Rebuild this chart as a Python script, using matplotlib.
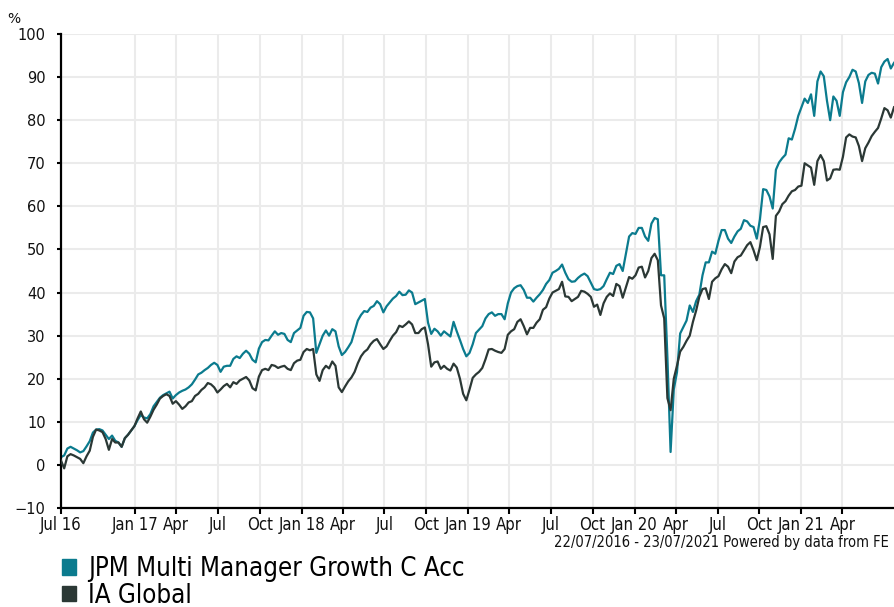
import numpy as np
import pandas as pd
import matplotlib
matplotlib.use("Agg")
import matplotlib.pyplot as plt
from matplotlib.patches import Patch

# weekly closing points, 22/07/2016 .. 23/07/2021 (cumulative % growth)
dates = pd.date_range("2016-07-22", "2021-07-23", freq="7D")

jpm = [
    1.8, 2.2, 3.8, 4.2, 3.8, 3.4, 2.9, 3.2, 4.3, 5.5,
    7.5, 8.2, 8.3, 8.0, 7.0, 6.0, 6.8, 5.6, 5.2, 4.2,
    6.2, 7.0, 8.0, 9.0, 10.4, 11.6, 11.0, 10.8, 11.8, 13.6,
    14.6, 15.6, 16.2, 16.6, 17.0, 15.4, 16.2, 16.8, 17.2, 17.5,
    18.0, 18.7, 19.8, 21.0, 21.4, 22.0, 22.5, 23.2, 23.7, 23.2,
    21.6, 22.8,
    23.0, 23.0, 24.6, 25.2, 24.8, 25.8, 26.5, 25.8, 24.4, 23.8,
    27.0, 28.5, 29.0, 28.9, 30.0, 31.0, 30.2, 30.6, 30.4, 29.0,
    28.5, 30.6, 31.2, 31.8, 34.6, 35.5, 35.4, 34.0, 26.0, 28.0,
    30.0, 31.2, 30.0, 31.5, 31.0, 27.5, 25.5, 26.2, 27.3, 28.5,
    31.0, 33.5, 34.8, 35.7, 35.5, 36.5, 36.9, 38.0, 37.3,
    35.4, 36.8, 37.7, 38.6, 39.2, 40.2, 39.4, 39.5, 40.5, 40.0,
    37.3, 37.7, 38.1, 38.5, 33.0, 30.4, 31.6, 31.0, 30.0, 31.0,
    30.4, 29.8, 33.2, 31.0, 29.0, 26.9, 25.2, 26.0, 28.0, 30.6,
    31.4, 32.2, 34.0, 35.0, 35.4, 34.6, 35.0, 35.0, 33.8, 37.5,
    40.0, 41.0, 41.5, 41.7, 40.6, 38.8, 38.8, 37.9, 38.8, 39.6,
    40.6, 42.0, 42.9, 44.6, 45.0, 45.5, 46.5, 44.6, 43.1, 42.5,
    42.6, 43.4, 44.0, 44.4, 43.8, 42.3, 40.8, 40.6, 40.8, 41.5,
    43.1, 44.6, 44.3, 46.2, 46.6, 45.0, 49.0, 53.0, 53.8, 53.6,
    55.0, 55.0, 53.0, 52.0, 56.0, 57.3, 57.0, 44.0, 44.0, 25.0,
    3.0, 17.5, 21.5, 30.5, 32.0, 33.5, 37.0,
    35.5, 38.0, 39.5, 44.0, 47.0, 47.0, 49.5, 49.0, 52.0, 54.5,
    54.5, 52.5, 51.5, 53.0, 54.2, 54.8, 56.8, 56.5, 55.5, 55.2,
    52.5, 57.0, 64.0, 63.8, 62.3, 59.5, 68.5, 70.2,
    71.2, 72.0, 75.8, 75.5, 78.0, 81.0, 83.0, 85.0, 84.0, 86.0,
    81.0, 89.0, 91.3, 90.2, 84.5, 80.0, 85.5, 84.5, 81.0, 86.5,
    88.8, 90.0, 91.7, 91.3, 88.6, 84.0, 89.0, 90.5, 91.0, 90.8,
    88.5, 92.3, 93.6, 94.2, 92.0, 93.3,
]

ia_global = [
    1.0, -0.8, 2.0, 2.5, 2.2, 1.8, 1.4, 0.4, 2.0, 3.3,
    6.5, 8.2, 8.0, 7.6, 6.0, 3.5, 6.0, 5.2, 5.2, 4.2,
    6.2, 7.0, 8.0, 9.0, 10.8, 12.4, 10.6, 9.8, 11.2, 12.8,
    14.0, 15.4, 16.0, 16.4, 16.0, 14.2, 14.8, 14.0, 13.0, 13.6,
    14.5, 14.8, 16.0, 16.5, 17.4, 18.0, 19.0, 18.7, 18.0, 16.8,
    17.5, 18.3,
    18.8, 18.0, 19.2, 18.8, 19.6, 20.0, 20.4, 19.6, 17.8, 17.3,
    20.5, 22.0, 22.3, 22.0, 23.2, 23.0, 22.5, 22.8, 23.0, 22.3,
    22.0, 23.6, 24.2, 24.4, 26.2, 26.9, 26.6, 26.9, 21.0, 19.5,
    22.0, 23.0, 22.4, 24.0, 23.0, 18.0, 16.9, 18.2, 19.4, 20.3,
    21.6, 23.6, 25.2, 26.2, 26.8, 28.0, 28.8, 29.2, 28.0,
    26.9, 27.5, 28.8, 30.0, 30.8, 32.3, 32.0, 32.6, 33.3, 32.6,
    30.6, 30.6, 31.5, 31.9, 28.0, 22.8, 23.8, 24.0, 22.3, 23.0,
    22.3, 21.9, 23.5, 22.6, 20.0, 16.5, 15.0, 17.5, 20.2, 21.0,
    21.6, 22.5, 24.5, 26.8, 26.9, 26.5, 26.2, 26.0, 26.9, 30.2,
    31.0, 31.5, 33.2, 33.8, 32.2, 30.3, 31.8, 31.8, 33.0, 33.8,
    36.0, 36.6, 38.6, 40.0, 40.4, 40.8, 42.5, 39.1, 39.0, 38.0,
    38.5, 39.0, 40.4, 40.2, 39.7, 39.0, 36.7, 37.2, 34.8, 37.5,
    39.0, 39.8, 39.2, 42.0, 41.5, 38.8, 41.2, 43.6, 43.2, 44.0,
    45.8, 46.0, 43.5, 45.0, 48.0, 49.0, 47.5, 37.0, 34.0, 15.5,
    12.7, 20.0, 23.0, 26.3, 27.4, 28.8, 30.0,
    33.2, 35.8, 39.0, 40.8, 41.0, 38.5, 42.5, 43.3, 43.8, 45.4,
    46.6, 46.0, 44.5, 47.2, 48.2, 48.6, 49.8, 51.0, 51.7, 49.8,
    47.5, 50.6, 55.2, 55.4, 53.5, 47.8, 57.8, 58.8,
    60.5, 61.2, 62.5, 63.5, 63.8, 64.6, 64.8, 70.0, 69.5, 69.0,
    65.0, 70.5, 71.9, 70.5, 66.0, 66.5, 68.5, 68.6, 68.5, 71.5,
    76.0, 76.7, 76.2, 76.0, 74.0, 70.5, 73.5, 74.8, 76.3, 77.3,
    78.2, 80.4, 82.8, 82.3, 80.6, 83.0,
]

series_names = ["JPM Multi Manager Growth C Acc", "IA Global"]
colors = ["#0b7b8e", "#2b3835"]

tick_dates = pd.to_datetime([
    "2016-07-22", "2017-01-01", "2017-04-01", "2017-07-01", "2017-10-01",
    "2018-01-01", "2018-04-01", "2018-07-01", "2018-10-01",
    "2019-01-01", "2019-04-01", "2019-07-01", "2019-10-01",
    "2020-01-01", "2020-04-01", "2020-07-01", "2020-10-01",
    "2021-01-01", "2021-04-01",
])
tick_labels = ["Jul 16", "Jan 17", "Apr", "Jul", "Oct", "Jan 18", "Apr", "Jul", "Oct",
               "Jan 19", "Apr", "Jul", "Oct", "Jan 20", "Apr", "Jul", "Oct", "Jan 21", "Apr"]
y_ticks = list(range(-10, 101, 10))
footer = "22/07/2016 - 23/07/2021 Powered by data from FE"

W, H = 894, 607
fig = plt.figure(figsize=(W / 100, H / 100), dpi=100)
ax = fig.add_axes([61 / W, 1 - 508 / H, 833 / W, 474 / H])

ax.plot(dates, ia_global, color=colors[1], lw=1.6, zorder=3)
ax.plot(dates, jpm, color=colors[0], lw=1.6, zorder=2)

ax.set_xlim(dates[0], dates[-1])
ax.set_ylim(-10, 100)
ax.set_yticks(y_ticks)
ax.set_xticks(tick_dates)
ax.set_xticklabels(tick_labels, fontsize=12, fontstretch="condensed")
for lab in ax.get_yticklabels():
    lab.set_fontsize(10.5)

ax.grid(True, color="#ebebeb", lw=1.5)
ax.set_axisbelow(True)
for s in ["top", "right"]:
    ax.spines[s].set_visible(False)
for s in ["left", "bottom"]:
    ax.spines[s].set_linewidth(1.6)
    ax.spines[s].set_color("black")
ax.tick_params(axis="y", direction="out", length=3, width=1.5, pad=8, labelcolor="#111111")
ax.tick_params(axis="x", direction="out", length=4, width=1.5, pad=2, labelcolor="#111111")

fig.text(14 / W, 1 - 19 / H, "%", ha="center", va="center", fontsize=10, color="#111111")
fig.text(889 / W, 1 - 543 / H, footer, ha="right", va="center", fontsize=10.5,
         fontstretch="condensed", color="#111111")

handles = [Patch(facecolor=c, edgecolor=c) for c in colors]
fig.legend(handles, series_names, loc="upper left", bbox_to_anchor=(62 / W, 1 - 556 / H),
           frameon=False, handlelength=0.55, handleheight=0.55,
           handletextpad=0.45, labelspacing=0.02, borderpad=0, borderaxespad=0,
           prop={"size": 18.5, "stretch": "condensed"})

fig.savefig("out.png", dpi=100)
